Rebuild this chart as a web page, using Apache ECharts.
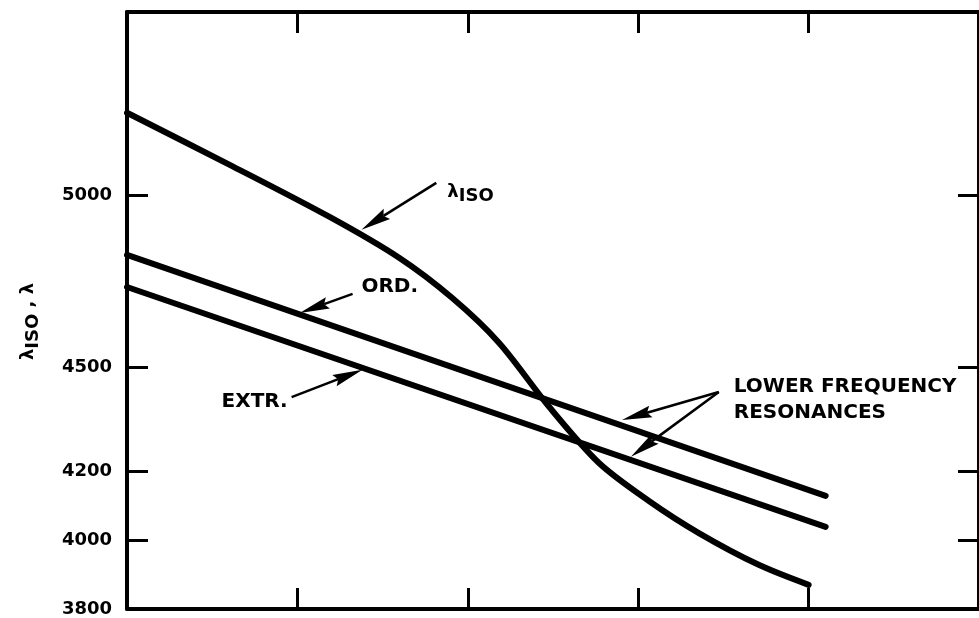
<!DOCTYPE html>
<html>
<head>
<meta charset="utf-8">
<script src="https://cdn.jsdelivr.net/npm/echarts@6/dist/echarts.min.js"></script>
<style>
html, body { margin: 0; padding: 0; background: #fff; }
#chart { width: 979px; height: 618px; }
</style>
</head>
<body>
<div id="chart"></div>
<script>
// λ_ISO curve and the two resonance lines (x axis has no labels, units 0..5)
var isoX = [0, 0.603, 1.189, 1.599, 1.909, 2.184, 2.477, 2.770, 3.063, 3.356, 3.707, 4.00];
var isoLambda = [5238, 5087, 4936, 4817, 4701, 4571, 4386, 4223, 4113, 4020, 3928, 3870];
var ordX = [0, 4.10];
var ordLambda = [4826, 4128];
var extrX = [0, 4.10];
var extrLambda = [4733, 4038];
var yTicks = [3800, 4000, 4200, 4500, 5000];

function pairs(xs, ys) {
    return xs.map(function (x, i) { return [x, ys[i]]; });
}

var FONT = 'DejaVu Sans';
var lineStyle = { color: '#000', width: 6, cap: 'round', join: 'round' };

var chart = echarts.init(document.getElementById('chart'));

function axisX(pos) {
    return {
        type: 'value', position: pos, min: 0, max: 5, interval: 1,
        axisLine: { show: true, onZero: false, lineStyle: { color: '#000', width: 4 } },
        axisTick: { show: true, inside: true, length: 21, lineStyle: { color: '#000', width: 3 } },
        axisLabel: { show: false },
        splitLine: { show: false }
    };
}

function axisY(pos, showLabel) {
    return {
        type: 'value', position: pos, min: 3800, max: 5530,
        axisLine: { show: true, onZero: false, lineStyle: { color: '#000', width: 4 } },
        axisTick: { show: true, inside: true, length: 21, customValues: yTicks, lineStyle: { color: '#000', width: 3 } },
        axisLabel: {
            show: showLabel, customValues: yTicks, margin: 15,
            formatter: function (v) { return String(v); },
            color: '#000', fontFamily: FONT, fontWeight: 'bold', fontSize: 18
        },
        splitLine: { show: false }
    };
}

var yLeft = axisY('left', true);
yLeft.name = '{a|λ}{b|ISO}{a| , λ}';
yLeft.nameLocation = 'middle';
yLeft.nameRotate = 90;
yLeft.nameGap = 85;
yLeft.nameTextStyle = {
    padding: [0, 22, 0, 0],
    rich: {
        a: { fontFamily: FONT, fontWeight: 'bold', fontSize: 18, color: '#000', lineHeight: 28 },
        b: { fontFamily: FONT, fontWeight: 'bold', fontSize: 18, color: '#000', lineHeight: 18, verticalAlign: 'bottom' }
    }
};

var option = {
    animation: false,
    backgroundColor: '#fff',
    grid: { left: 127, right: -2, top: 12, bottom: 9 },
    xAxis: [axisX('bottom'), axisX('top')],
    yAxis: [yLeft, axisY('right', false)],
    series: [
        { name: 'λISO', type: 'line', data: pairs(isoX, isoLambda), smooth: 0.3, showSymbol: false, lineStyle: lineStyle },
        { name: 'ORD.', type: 'line', data: pairs(ordX, ordLambda), showSymbol: false, lineStyle: lineStyle },
        { name: 'EXTR.', type: 'line', data: pairs(extrX, extrLambda), showSymbol: false, lineStyle: lineStyle }
    ]
};
chart.setOption(option);

// annotations: arrows and labels anchored in data space
var arrows = [
    [[1.815, 5035], [1.376, 4899]],
    [[1.324, 4713], [1.013, 4658]],
    [[0.966, 4414], [1.382, 4493]],
    [[3.473, 4429], [2.905, 4348]],
    [[3.473, 4429], [2.957, 4241]]
];
var labels = [
    { at: [1.88, 5006], text: '{a|λ}{b|ISO}', align: 'left' },
    { at: [1.376, 4733], text: '{c|ORD.}', align: 'left' },
    { at: [0.943, 4400], text: '{c|EXTR.}', align: 'right' },
    { at: [3.561, 4406], text: '{c|LOWER FREQUENCY}\n{c|RESONANCES}', align: 'left' }
];

function px(p) { return chart.convertToPixel({ gridIndex: 0 }, p); }

var graphics = [];
arrows.forEach(function (a) {
    var s = px(a[0]), t = px(a[1]);
    var dx = t[0] - s[0], dy = t[1] - s[1];
    var len = Math.sqrt(dx * dx + dy * dy);
    var ux = dx / len, uy = dy / len;
    var headLen = 30, half = 6;
    var bx = t[0] - ux * headLen, by = t[1] - uy * headLen;
    graphics.push({
        type: 'line', silent: true,
        shape: { x1: s[0], y1: s[1], x2: bx + ux * 4, y2: by + uy * 4 },
        style: { stroke: '#000', lineWidth: 2.5 }
    });
    graphics.push({
        type: 'polygon', silent: true,
        shape: { points: [
            [t[0], t[1]],
            [bx - uy * half, by + ux * half],
            [bx + ux * 4, by + uy * 4],
            [bx + uy * half, by - ux * half]
        ] },
        style: { fill: '#000' }
    });
});

var rich = {
    a: { fontFamily: FONT, fontWeight: 'bold', fontSize: 18, fill: '#000', lineHeight: 26 },
    b: { fontFamily: FONT, fontWeight: 'bold', fontSize: 18, fill: '#000', lineHeight: 16, verticalAlign: 'bottom' },
    c: { fontFamily: FONT, fontWeight: 'bold', fontSize: 20, fill: '#000', lineHeight: 26 }
};
labels.forEach(function (l) {
    var p = px(l.at);
    graphics.push({
        type: 'text', silent: true, x: p[0], y: p[1],
        style: { text: l.text, rich: rich, align: l.align, verticalAlign: 'middle', fill: '#000' }
    });
});

chart.setOption({ graphic: graphics });
</script>
</body>
</html>
